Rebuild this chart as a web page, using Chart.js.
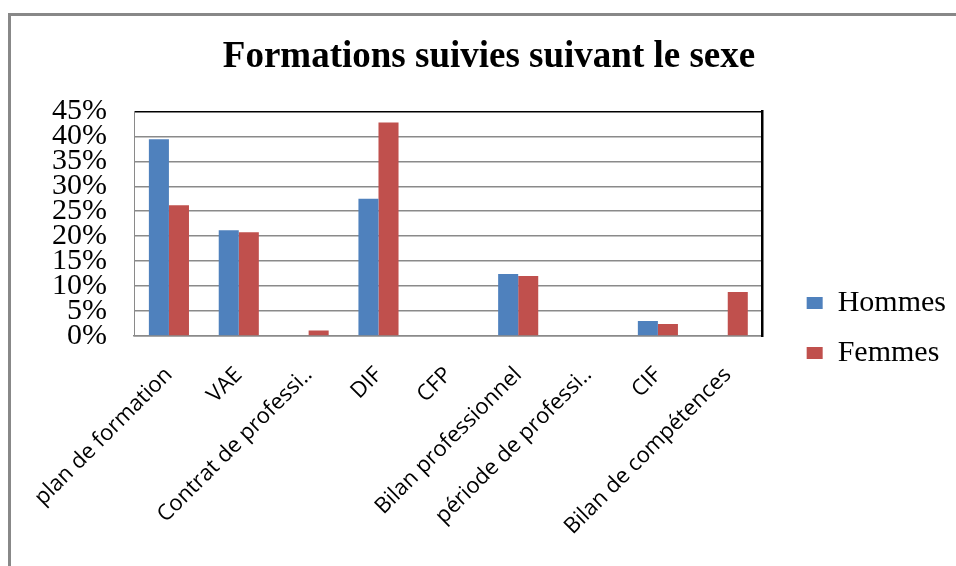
<!DOCTYPE html>
<html>
<head>
<meta charset="utf-8">
<script src="https://cdn.jsdelivr.net/npm/chart.js@4"></script>
<style>
  html, body { margin: 0; padding: 0; background: #fff; }
  #wrap { position: relative; width: 956px; height: 566px; overflow: hidden; }
  #frame { position: absolute; left: 8px; top: 13px; width: 1000px; height: 600px;
           border-left: 3px solid #888; border-top: 3px solid #888; }
  canvas { position: absolute; left: 0; top: 0; }
</style>
</head>
<body>
<div id="wrap">
  <div id="frame"></div>
  <canvas id="chart" width="956" height="566"></canvas>
</div>
<script>
// data
const categories = ["plan de formation", "VAE", "Contrat de professi..", "DIF", "CFP",
  "Bilan professionnel", "période de professi..", "CIF", "Bilan de compétences"];
const hommes = [39.4, 21.2, 0, 27.5, 0, 12.4, 0, 3.0, 0];
const femmes = [26.2, 20.8, 1.1, 42.8, 0, 12.0, 0, 2.4, 8.8];
const yTicks = [0, 5, 10, 15, 20, 25, 30, 35, 40, 45];

const gridGray = "#8a8a8a";

const ctx = document.getElementById("chart").getContext("2d");
const chart = new Chart(ctx, {
  type: "bar",
  data: {
    labels: categories,
    datasets: [
      { label: "Hommes", data: hommes, backgroundColor: "#4f81bd", yAxisID: "y" },
      { label: "Femmes", data: femmes, backgroundColor: "#c0504d", yAxisID: "y" }
    ]
  },
  options: {
    responsive: false,
    animation: false,
    layout: { padding: { left: 22, right: 0, top: 0, bottom: 0 } },
    datasets: { bar: { barPercentage: 1, categoryPercentage: 0.574 } },
    plugins: {
      tooltip: { enabled: false },
      title: {
        display: true,
        text: "Formations suivies suivant le sexe",
        color: "#000",
        font: { family: "Liberation Serif", size: 37, weight: "bold" },
        padding: { top: 35, bottom: 32 }
      },
      legend: {
        position: "right",
        align: "start",
        maxWidth: 171,
        title: { display: true, text: "", font: { size: 10, lineHeight: 1 }, padding: { top: 258, bottom: 0 } },
        labels: {
          color: "#000",
          font: { family: "Liberation Serif", size: 30 },
          boxWidth: 16,
          boxHeight: 12,
          padding: 20
        }
      }
    },
    scales: {
      x: {
        afterFit: s => { s.height = 230; },
        grid: { display: false },
        border: { display: true, color: gridGray, width: 1.5 },
        ticks: {
          color: "#000",
          font: { family: "Open Sans", size: 22 },
          autoSkip: false,
          minRotation: 45,
          maxRotation: 45,
          padding: 18
        }
      },
      y: {
        min: 0,
        max: 45,
        afterBuildTicks: s => { s.ticks = yTicks.map(v => ({ value: v })); },
        afterFit: s => { s.width = 112; },
        grid: {
          drawTicks: false,
          lineWidth: 1.5,
          color: c => (c.tick && c.tick.value === 45 ? "#000" : gridGray)
        },
        border: { display: true, color: gridGray, width: 1 },
        ticks: {
          color: "#000",
          font: { family: "Liberation Serif", size: 30 },
          autoSkip: false,
          padding: 27,
          callback: v => v + "%"
        }
      },
      y2: {
        position: "right",
        min: 0,
        max: 45,
        afterFit: s => { s.width = 24; },
        grid: { drawOnChartArea: false, drawTicks: false },
        border: { display: true, color: "#000", width: 2.5 },
        ticks: { display: false }
      }
    }
  }
});
</script>
</body>
</html>
